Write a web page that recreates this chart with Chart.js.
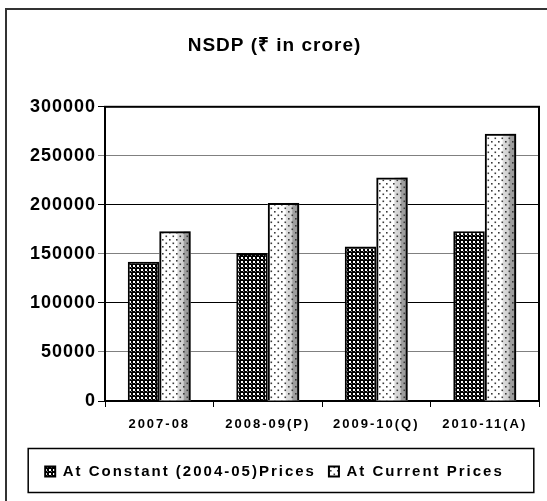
<!DOCTYPE html>
<html>
<head>
<meta charset="utf-8">
<script src="https://cdn.jsdelivr.net/npm/chart.js@4.4.0/dist/chart.umd.min.js"></script>
<style>
html, body { margin: 0; padding: 0; background: #fff; }
</style>
</head>
<body>
<canvas id="chart" width="547" height="501"></canvas>
<script>
// --- data ---
const years = ['2007-08', '2008-09(P)', '2009-10(Q)', '2010-11(A)'];
const constantPrices = [142000, 151000, 157500, 173000];
const currentPrices = [173000, 202000, 228000, 272500];
const yTickLabels = ['0', '50000', '100000', '150000', '200000', '250000', '300000'];
const seriesNames = ['At Constant (2004-05)Prices', 'At Current Prices'];
const titleText = 'NSDP (\u20B9 in crore)';

const fontFamily = "'Liberation Sans', Arial, sans-serif";

// fill patterns
function checkerPattern() {
    const c = document.createElement('canvas');
    c.width = 4; c.height = 4;
    const g = c.getContext('2d');
    g.fillStyle = '#000';
    g.fillRect(0, 0, 4, 4);
    g.fillStyle = '#fff';
    g.fillRect(1, 1, 2, 2);
    g.fillStyle = '#777';
    g.fillRect(3, 3, 1, 1);
    return g.createPattern(c, 'repeat');
}

function dotPattern() {
    const c = document.createElement('canvas');
    c.width = 7; c.height = 7;
    const g = c.getContext('2d');
    g.fillStyle = '#3a3a3a';
    g.fillRect(1, 1, 1.6, 1.6);
    g.fillRect(4.5, 4.5, 1.6, 1.6);
    return g.createPattern(c, 'repeat');
}

function withSpacing(obj, name, spacing) {
    const orig = obj[name];
    obj[name] = function () {
        const c = this.ctx;
        const prev = c.letterSpacing;
        c.letterSpacing = spacing;
        const r = orig.apply(this, arguments);
        c.letterSpacing = prev;
        return r;
    };
}

const ctx = document.getElementById('chart').getContext('2d');

const textSpacing = {
    id: 'textSpacing',
    afterInit(chart) {
        if (chart.titleBlock) withSpacing(chart.titleBlock, 'draw', '1px');
    },
    beforeUpdate(chart) { chart.ctx.letterSpacing = '2px'; },
    afterLayout(chart) {
        const y = chart.scales.y;
        if (y && !y._spaced) {
            withSpacing(y, 'drawLabels', '1px');
            y._spaced = true;
        }
    },
    beforeDraw(chart) { chart.ctx.letterSpacing = '2px'; }
};

const decorations = {
    id: 'decorations',
    beforeDraw(chart) {
        const c = chart.ctx;
        c.save();
        c.fillStyle = '#333';
        c.fillRect(5, 8, 2, chart.height - 8);
        c.fillRect(5, 8, chart.width - 5, 2);
        c.restore();
    },
    beforeDatasetsDraw(chart) {
        const a = chart.chartArea;
        const c = chart.ctx;
        c.save();
        c.strokeStyle = '#000';
        c.lineWidth = 2;
        c.strokeRect(a.left, a.top, a.right - a.left, a.bottom - a.top);
        c.restore();
    },
    beforeDatasetDraw(chart, args) {
        if (args.index !== 1) return;
        const c = chart.ctx;
        chart.getDatasetMeta(1).data.forEach(el => {
            const p = el.getProps(['x', 'y', 'base', 'width'], true);
            const l = p.x - p.width / 2;
            const gr = c.createLinearGradient(l, 0, l + p.width, 0);
            gr.addColorStop(0, '#fff');
            gr.addColorStop(0.55, '#fff');
            gr.addColorStop(0.6, '#dcdcdc');
            gr.addColorStop(0.76, '#cfcfcf');
            gr.addColorStop(0.8, '#a0a0a0');
            gr.addColorStop(1, '#999');
            c.save();
            c.fillStyle = gr;
            c.fillRect(l, p.y, p.width, p.base - p.y);
            c.restore();
        });
    },
    afterDraw(chart) {
        const lg = chart.legend;
        const hb = lg.legendHitBoxes;
        if (!hb.length) return;
        const last = hb[hb.length - 1];
        const mid = hb[0].top + hb[0].height / 2;
        const left = hb[0].left - 17;
        const right = last.left + last.width + 30;
        const c = chart.ctx;
        c.save();
        c.strokeStyle = '#000';
        c.lineWidth = 1.5;
        c.strokeRect(left, mid - 23, right - left, 44);
        c.restore();
    }
};

new Chart(ctx, {
    type: 'bar',
    data: {
        labels: years,
        datasets: [{
            label: seriesNames[0],
            data: constantPrices,
            backgroundColor: checkerPattern(),
            borderColor: '#000',
            borderWidth: 2,
            categoryPercentage: 0.58,
            barPercentage: 1
        },
        {
            label: seriesNames[1],
            data: currentPrices,
            backgroundColor: dotPattern(),
            borderColor: '#000',
            borderWidth: 2,
            categoryPercentage: 0.58,
            barPercentage: 1
        }]
    },
    options: {
        responsive: false,
        animation: false,
        devicePixelRatio: 1,
        font: { family: fontFamily },
        color: '#000',
        layout: { padding: { top: 8, left: 10, right: 8, bottom: 12 } },
        plugins: {
            title: {
                display: true,
                text: titleText,
                color: '#000',
                font: { family: fontFamily, size: 19, weight: 'bold' },
                padding: { top: 26, bottom: 50 }
            },
            legend: {
                position: 'bottom',
                labels: {
                    color: '#000',
                    font: { family: fontFamily, size: 15, weight: 'bold' },
                    boxWidth: 10,
                    boxHeight: 10,
                    padding: 13
                }
            },
            tooltip: { enabled: false }
        },
        scales: {
            x: {
                offset: true,
                grid: { offset: true, drawOnChartArea: false, tickLength: 6, color: '#000' },
                border: { color: '#000', width: 2 },
                ticks: {
                    color: '#000',
                    font: { family: fontFamily, size: 13, weight: 'bold' },
                    padding: 10,
                    maxRotation: 0
                },
                afterFit(scale) { scale.height = 50; }
            },
            y: {
                min: 0,
                max: 300000,
                grid: { color: c => (c.index % 2 ? '#808080' : '#000'), tickLength: 7 },
                border: { color: '#000', width: 2 },
                ticks: {
                    stepSize: 50000,
                    color: '#000',
                    padding: 2,
                    font: { family: fontFamily, size: 18, weight: 'bold' },
                    callback: (v, i) => yTickLabels[i]
                },
                afterFit(scale) { scale.width = 95; }
            }
        }
    },
    plugins: [textSpacing, decorations]
});
</script>
</body>
</html>
